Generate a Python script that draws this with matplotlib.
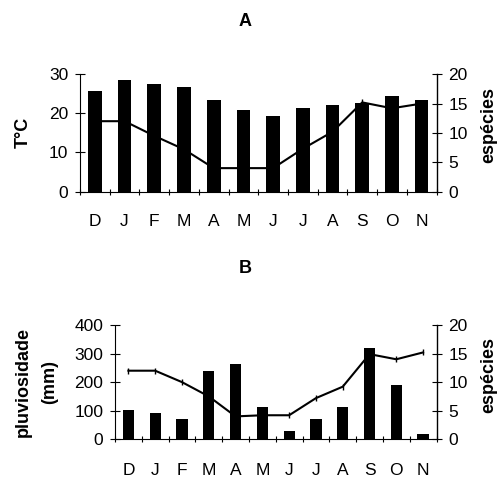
import matplotlib
matplotlib.use("Agg")
import matplotlib.pyplot as plt
import numpy as np

plt.rcParams['font.family'] = ['Liberation Sans', 'DejaVu Sans']

months = ['D', 'J', 'F', 'M', 'A', 'M', 'J', 'J', 'A', 'S', 'O', 'N']
temperature = [25.8, 28.6, 27.4, 26.8, 23.5, 20.8, 19.2, 21.3, 22.2, 22.7, 24.4, 23.5]
rainfall = [102, 93, 70, 240, 262, 114, 30, 72, 114, 318, 190, 19]
species_a = [12, 12, 9.5, 7.2, 4, 4, 4, 7.3, 10.2, 15.2, 14.2, 15]
species_b = [12, 12, 10, 7.5, 4, 4.2, 4.2, 7.2, 9.2, 14.9, 14, 15.2]

x = np.arange(len(months))

fig = plt.figure(figsize=(5, 4.79), dpi=100)


def style_panel(ax, ax2, ylim, yticks):
    ax.set_xlim(-0.5, len(months) - 0.5)
    ax.set_ylim(*ylim)
    ax.set_yticks(yticks)
    ax2.set_ylim(0, 20)
    ax2.set_yticks([0, 5, 10, 15, 20])
    ax.set_xticks(x)
    ax.set_xticklabels(months)
    ax.set_xticks(np.arange(-0.5, len(months) + 0.5, 1), minor=True)
    ax.tick_params(axis='x', which='major', length=0, pad=16, labelsize=12.5)
    ax.tick_params(axis='x', which='minor', length=5, direction='inout', width=0.8)
    ax.tick_params(axis='y', length=7, direction='inout', width=0.8, labelsize=12.5, pad=5)
    ax2.tick_params(axis='y', length=7, direction='inout', width=0.8, labelsize=12.5, pad=5)
    for a in (ax, ax2):
        a.spines['top'].set_visible(False)
    ax.spines['right'].set_visible(False)
    ax2.spines['left'].set_visible(False)
    ax2.spines['bottom'].set_visible(False)
    ax.spines['left'].set_linestyle((0, (4, 1, 1, 1)))
    ax.spines['bottom'].set_linestyle((0, (4, 1, 1, 1)))
    ax.spines['left'].set_linewidth(0.8)
    ax.spines['bottom'].set_linewidth(0.8)
    ax2.spines['right'].set_linewidth(1.0)


# Panel A: temperature vs species
axA = fig.add_axes([0.16, 0.600, 0.713, 0.245])
axA.bar(x, temperature, width=0.46, color='black', zorder=2)
axA2 = axA.twinx()
axA2.plot(x, species_a, color='black', linewidth=1.5, marker='|', markersize=4, zorder=3)
style_panel(axA, axA2, (0, 30), [0, 10, 20, 30])
fig.text(0.046, 0.724, 'T°C', rotation=90, ha='center', va='center', fontsize=13, fontweight='bold')
fig.text(0.978, 0.739, 'espécies', rotation=90, ha='center', va='center', fontsize=13, fontweight='bold')
fig.text(0.49, 0.955, 'A', ha='center', va='center', fontsize=13, fontweight='bold')

# Panel B: rainfall vs species
axB = fig.add_axes([0.23, 0.083, 0.643, 0.2385])
axB.bar(x, rainfall, width=0.42, color='black', zorder=2)
axB2 = axB.twinx()
axB2.plot(x, species_b, color='black', linewidth=1.5, marker='|', markersize=4, zorder=3)
style_panel(axB, axB2, (0, 400), [0, 100, 200, 300, 400])
axB.tick_params(axis='x', which='major', pad=17)
fig.text(0.046, 0.203, 'pluviosidade', rotation=90, ha='center', va='center', fontsize=13, fontweight='bold')
fig.text(0.100, 0.203, '(mm)', rotation=90, ha='center', va='center', fontsize=13, fontweight='bold')
fig.text(0.978, 0.217, 'espécies', rotation=90, ha='center', va='center', fontsize=13, fontweight='bold')
fig.text(0.49, 0.44, 'B', ha='center', va='center', fontsize=13, fontweight='bold')

fig.savefig('out.png', dpi=100)
